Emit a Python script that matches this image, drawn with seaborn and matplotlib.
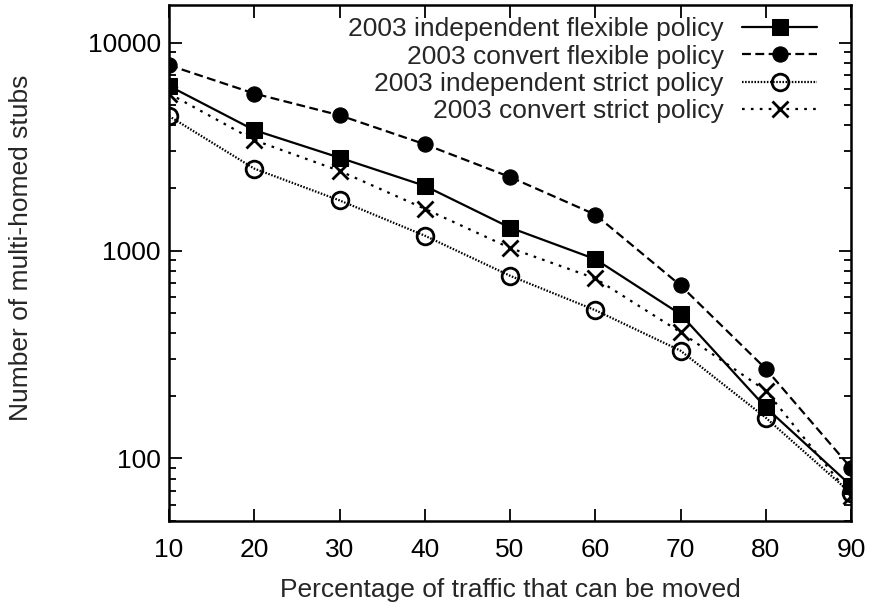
import matplotlib
matplotlib.use("Agg")
import matplotlib.pyplot as plt
import seaborn as sns
import pandas as pd
from matplotlib.ticker import LogLocator, FixedLocator, NullFormatter, FuncFormatter

# Share of traffic that can be moved (%)
traffic_pct = [10, 20, 30, 40, 50, 60, 70, 80, 90]

# Number of multi-homed stubs per policy
indep_flexible = [6200, 3800, 2800, 2050, 1290, 910, 494, 176, 74]
convert_flexible = [7800, 5700, 4480, 3250, 2260, 1490, 680, 270, 90]
indep_strict = [4440, 2480, 1745, 1180, 757, 517, 330, 157, 68]
convert_strict = [5700, 3400, 2420, 1590, 1030, 735, 405, 212, 66]

series_labels = [
    "2003 independent flexible policy",
    "2003 convert flexible policy",
    "2003 independent strict policy",
    "2003 convert strict policy",
]
series_values = [indep_flexible, convert_flexible, indep_strict, convert_strict]

styles = [
    dict(marker="s", linestyle="-", markersize=11, markerfacecolor="black"),
    dict(marker="o", linestyle=(0, (4, 2)), markersize=11, markerfacecolor="black"),
    dict(marker="o", linestyle=(0, (0.7, 0.7)), markersize=12, markerfacecolor="none",
         markeredgewidth=2),
    dict(marker="x", linestyle=(0, (1.2, 2.8)), markersize=11, markeredgewidth=2),
]

sns.set_theme(style="ticks")
plt.rcParams["font.family"] = ["Liberation Sans", "DejaVu Sans"]

FS = 19

fig = plt.figure(figsize=(8.74, 6.10), dpi=100)
ax = fig.add_axes([0.1934, 0.1459, 0.7803, 0.8459])

frames = []
for label, vals in zip(series_labels, series_values):
    frames.append(pd.DataFrame({"pct": traffic_pct, "stubs": vals, "policy": label}))
df = pd.concat(frames, ignore_index=True)

for label, st in zip(series_labels, styles):
    sub = df[df["policy"] == label]
    sns.lineplot(data=sub, x="pct", y="stubs", ax=ax, color="black", lw=1.6,
                 markeredgecolor="black", label=label, **st)

ax.set_yscale("log")
ax.set_xlim(10, 90)
ax.set_ylim(50, 15200)

ax.xaxis.set_major_locator(FixedLocator(traffic_pct))
ax.yaxis.set_major_locator(LogLocator(base=10, numticks=10))
ax.yaxis.set_minor_locator(LogLocator(base=10, subs=range(2, 10), numticks=20))
ax.yaxis.set_major_formatter(FuncFormatter(lambda v, p: f"{int(round(v))}"))
ax.yaxis.set_minor_formatter(NullFormatter())

ax.tick_params(which="both", direction="in", top=True, right=True, colors="black",
               labelsize=FS, width=1.3)
ax.tick_params(axis="x", pad=12)
ax.tick_params(axis="y", pad=6)
ax.tick_params(which="major", length=9)
ax.tick_params(which="minor", length=5)

for sp in ax.spines.values():
    sp.set_linewidth(1.8)
    sp.set_color("black")

ax.set_xlabel("Percentage of traffic that can be moved", fontsize=FS, labelpad=12)
ax.set_ylabel("Number of multi-homed stubs", fontsize=FS)
ax.yaxis.set_label_coords(-0.20, 0.53)

leg = ax.legend(loc="upper right", bbox_to_anchor=(0.972, 1.004), frameon=False,
                markerfirst=False, numpoints=1, fontsize=FS, handlelength=2.85,
                labelspacing=0.12, handletextpad=0.7, borderaxespad=0.3,
                borderpad=0.25)

fig.savefig("out.png", dpi=100)
